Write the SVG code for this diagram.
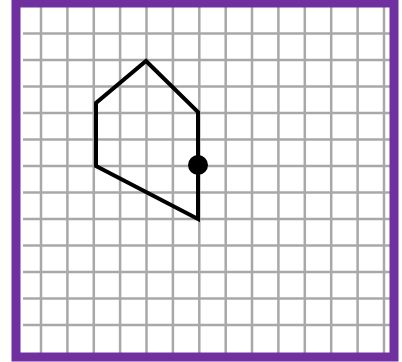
<svg xmlns="http://www.w3.org/2000/svg" width="402" height="362" viewBox="0 0 402 362">
  <style>
    .grid line { stroke: #a8a8a8; stroke-width: 2.5; }
    .shape { fill: none; stroke: #000; stroke-width: 4; stroke-linejoin: miter; }
  </style>
  <rect x="0" y="0" width="402" height="362" fill="#fff"/>
  <g class="grid" id="grid">
    <line x1="41" y1="7" x2="41" y2="353"/>
    <line x1="67.4" y1="7" x2="67.4" y2="353"/>
    <line x1="93.8" y1="7" x2="93.8" y2="353"/>
    <line x1="120.1" y1="7" x2="120.1" y2="353"/>
    <line x1="146.5" y1="7" x2="146.5" y2="353"/>
    <line x1="172.9" y1="7" x2="172.9" y2="353"/>
    <line x1="199.3" y1="7" x2="199.3" y2="353"/>
    <line x1="225.7" y1="7" x2="225.7" y2="353"/>
    <line x1="252" y1="7" x2="252" y2="353"/>
    <line x1="278.4" y1="7" x2="278.4" y2="353"/>
    <line x1="304.8" y1="7" x2="304.8" y2="353"/>
    <line x1="331.2" y1="7" x2="331.2" y2="353"/>
    <line x1="357.6" y1="7" x2="357.6" y2="353"/>
    <line x1="384" y1="7" x2="384" y2="353"/>
    <line x1="23" y1="33.5" x2="390" y2="33.5"/>
    <line x1="23" y1="60" x2="390" y2="60"/>
    <line x1="23" y1="86.5" x2="390" y2="86.5"/>
    <line x1="23" y1="113" x2="390" y2="113"/>
    <line x1="23" y1="139.5" x2="390" y2="139.5"/>
    <line x1="23" y1="166" x2="390" y2="166"/>
    <line x1="23" y1="192.5" x2="390" y2="192.5"/>
    <line x1="23" y1="219" x2="390" y2="219"/>
    <line x1="23" y1="245.5" x2="390" y2="245.5"/>
    <line x1="23" y1="272" x2="390" y2="272"/>
    <line x1="23" y1="298.5" x2="390" y2="298.5"/>
    <line x1="23" y1="325" x2="390" y2="325"/>
  </g>
  <rect id="frame" x="16" y="3" width="378" height="354" fill="none" stroke="#7030a0" stroke-width="9"/>
  <g id="hexagon">
    <polygon class="shape" points="146,61 198,112 198,219 96,166 96,103"/>
  </g>
  <g id="dot">
    <circle cx="198" cy="165" r="10" fill="#000"/>
  </g>
</svg>
